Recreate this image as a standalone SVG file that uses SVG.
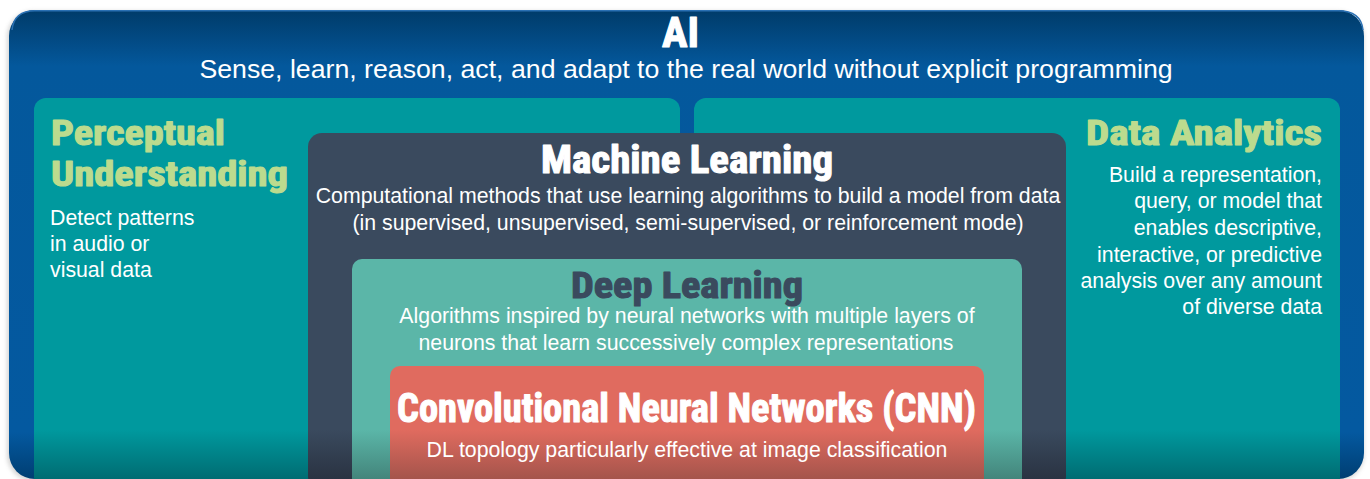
<svg xmlns="http://www.w3.org/2000/svg" width="1370" height="479" viewBox="0 0 1370 479">
<defs>
<linearGradient id="gBlue" gradientUnits="userSpaceOnUse" x1="0" y1="10" x2="0" y2="479">
<stop offset="0" stop-color="#003b69"/>
<stop offset="0.12" stop-color="#04589c"/>
<stop offset="0.9" stop-color="#0459a0"/>
<stop offset="1" stop-color="#003e72"/>
</linearGradient>
<linearGradient id="gTeal" gradientUnits="userSpaceOnUse" x1="0" y1="430" x2="0" y2="479">
<stop offset="0" stop-color="#00999e"/>
<stop offset="1" stop-color="#006c72"/>
</linearGradient>
<linearGradient id="gML" gradientUnits="userSpaceOnUse" x1="0" y1="430" x2="0" y2="479">
<stop offset="0" stop-color="#3a4a5e"/>
<stop offset="1" stop-color="#2a3342"/>
</linearGradient>
<linearGradient id="gDL" gradientUnits="userSpaceOnUse" x1="0" y1="430" x2="0" y2="479">
<stop offset="0" stop-color="#5bb6a8"/>
<stop offset="1" stop-color="#43857b"/>
</linearGradient>
<linearGradient id="gCNN" gradientUnits="userSpaceOnUse" x1="0" y1="430" x2="0" y2="479">
<stop offset="0" stop-color="#e06b5f"/>
<stop offset="1" stop-color="#a4544b"/>
</linearGradient>
<filter id="shadow" x="-5%" y="-5%" width="110%" height="110%">
<feGaussianBlur stdDeviation="2"/>
</filter>
</defs>
<style>
.h{font-family:"Liberation Sans Narrow","Roboto Condensed","Liberation Sans",Arial,sans-serif;font-weight:bold;stroke-width:1.1px;stroke-linejoin:round;}
.b{font-family:"Liberation Sans",Arial,sans-serif;font-size:21.3px;fill:#ffffff;}
.green{fill:#bcdb8e;stroke:#bcdb8e;}
.white{fill:#ffffff;stroke:#ffffff;}
.dark{fill:#3a4a5e;stroke:#3a4a5e;}
.mid{text-anchor:middle;}
.end{text-anchor:end;}
</style>
<g id="ai">
<rect x="7" y="11" width="1357" height="470" rx="26" fill="#888888" opacity="0.35" filter="url(#shadow)"/>
<rect x="9" y="10" width="1355" height="469" rx="26" fill="url(#gBlue)"/>
<path d="M 12 30 Q 14 10.8 35 10.8 L 1338 10.8 Q 1361 10.8 1363 30" fill="none" stroke="#2a70b3" stroke-width="1.5"/>
<text class="h white mid" x="680.5" y="47" font-size="42" textLength="37" lengthAdjust="spacingAndGlyphs">AI</text>
<text class="b mid" x="686" y="78" style="font-size:26.7px">Sense, learn, reason, act, and adapt to the real world without explicit programming</text>
</g>
<g id="perceptual">
<rect x="34" y="98" width="646" height="392" rx="12" fill="url(#gTeal)"/>
<text class="h green" x="51" y="145" font-size="35" textLength="174" lengthAdjust="spacingAndGlyphs">Perceptual</text>
<text class="h green" x="51" y="186" font-size="35" textLength="237" lengthAdjust="spacingAndGlyphs">Understanding</text>
<text class="b" x="50" y="225">Detect patterns</text>
<text class="b" x="50" y="251">in audio or</text>
<text class="b" x="50" y="277">visual data</text>
</g>
<g id="analytics">
<rect x="694" y="98" width="646" height="392" rx="12" fill="url(#gTeal)"/>
<text class="h green" x="1086" y="145" font-size="35" textLength="236" lengthAdjust="spacingAndGlyphs">Data Analytics</text>
<text class="b end" x="1322" y="182">Build a representation,</text>
<text class="b end" x="1322" y="208">query, or model that</text>
<text class="b end" x="1322" y="235">enables descriptive,</text>
<text class="b end" x="1322" y="262">interactive, or predictive</text>
<text class="b end" x="1322" y="288">analysis over any amount</text>
<text class="b end" x="1322" y="314">of diverse data</text>
</g>
<g id="ml">
<rect x="308" y="133" width="758" height="357" rx="14" fill="url(#gML)"/>
<text class="h white" x="541" y="173" font-size="39" textLength="292" lengthAdjust="spacingAndGlyphs">Machine Learning</text>
<text class="b mid" x="688" y="203">Computational methods that use learning algorithms to build a model from data</text>
<text class="b mid" x="688" y="230">(in supervised, unsupervised, semi-supervised, or reinforcement mode)</text>
</g>
<g id="dl">
<rect x="352" y="259" width="670" height="231" rx="10" fill="url(#gDL)"/>
<text class="h dark" x="571" y="298" font-size="36" textLength="232" lengthAdjust="spacingAndGlyphs">Deep Learning</text>
<text class="b mid" x="687" y="323">Algorithms inspired by neural networks with multiple layers of</text>
<text class="b mid" x="686" y="350">neurons that learn successively complex representations</text>
</g>
<g id="cnn">
<rect x="390" y="366" width="594" height="124" rx="10" fill="url(#gCNN)"/>
<text class="h white" x="397" y="422" font-size="40" textLength="579" lengthAdjust="spacingAndGlyphs">Convolutional Neural Networks (CNN)</text>
<text class="b mid" x="687" y="457">DL topology particularly effective at image classification</text>
</g>
<g id="connectors"/>
</svg>
